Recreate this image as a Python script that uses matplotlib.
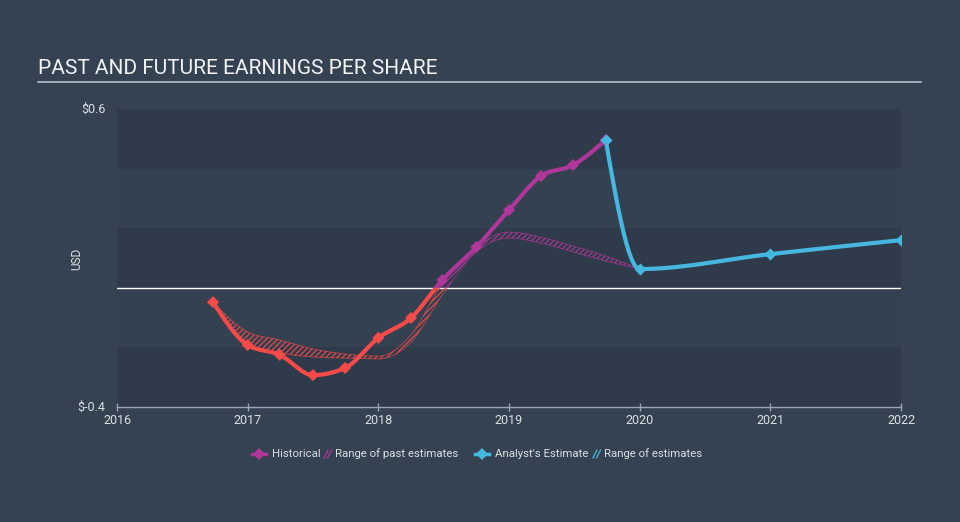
import numpy as np
import matplotlib.pyplot as plt
from matplotlib.patches import Rectangle
from matplotlib.lines import Line2D

plt.rcParams['font.family'] = ['Roboto', 'DejaVu Sans']
plt.rcParams['hatch.linewidth'] = 0.8

# historical EPS (fractional year, USD)
hist_x = [2016.735, 2017.0, 2017.245, 2017.5, 2017.745, 2018.0, 2018.25,
          2018.49, 2018.75, 2019.0, 2019.245, 2019.49, 2019.74]
hist_y = [-0.048, -0.192, -0.225, -0.293, -0.269, -0.168, -0.101,
          0.026, 0.137, 0.261, 0.375, 0.412, 0.496]

# range of past estimates
past_x = [2016.735, 2017.0, 2017.245, 2017.5, 2017.745, 2018.0, 2018.25,
          2018.49, 2018.75, 2019.0, 2019.245, 2019.49, 2019.74, 2020.0]
past_hi = [-0.048, -0.148, -0.175, -0.205, -0.222, -0.229, -0.158,
           0.016, 0.137, 0.187, 0.170, 0.140, 0.107, 0.063]
past_lo = [-0.048, -0.192, -0.219, -0.232, -0.236, -0.239, -0.182,
           -0.024, 0.120, 0.167, 0.150, 0.120, 0.090, 0.063]

# analyst estimates
est_x = [2019.74, 2020.0, 2021.0, 2022.0]
est_y = [0.496, 0.063, 0.113, 0.160]

years = [2016, 2017, 2018, 2019, 2020, 2021, 2022]

BG = '#344251'
BAND_DARK = '#2f3b4a'
BAND_LIGHT = '#344150'
RED = '#f44a4a'
PURPLE = '#b0379a'
BLUE = '#46b7de'
TXT = '#dde0e3'


def monotone(x, y, n=40):
    """monotone cubic (like d3 curveMonotoneX)"""
    x = np.asarray(x, float)
    y = np.asarray(y, float)
    h = np.diff(x)
    s = np.diff(y) / h
    m = np.zeros(len(x))
    for k in range(1, len(x) - 1):
        p = (s[k - 1] * h[k] + s[k] * h[k - 1]) / (h[k - 1] + h[k])
        m[k] = (np.sign(s[k - 1]) + np.sign(s[k])) * min(abs(s[k - 1]), abs(s[k]), 0.5 * abs(p))
    if len(x) > 2:
        m[0] = (3 * s[0] - m[1]) / 2
        m[-1] = (3 * s[-1] - m[-2]) / 2
    else:
        m[0] = m[-1] = s[0]
    xs, ys = [], []
    for k in range(len(x) - 1):
        t = np.linspace(0, 1, n)
        h00 = 2 * t**3 - 3 * t**2 + 1
        h10 = t**3 - 2 * t**2 + t
        h01 = -2 * t**3 + 3 * t**2
        h11 = t**3 - t**2
        xs.append(x[k] + t * h[k])
        ys.append(h00 * y[k] + h10 * h[k] * m[k] + h01 * y[k + 1] + h11 * h[k] * m[k + 1])
    return np.concatenate(xs), np.concatenate(ys)


fig = plt.figure(figsize=(9.6, 5.22), dpi=100, facecolor=BG)
ax = fig.add_axes([117 / 960, 1 - 407 / 522, 784 / 960, 298 / 522])
ax.set_facecolor(BG)
ax.set_xlim(2016, 2022)
ax.set_ylim(-0.4, 0.6)

# horizontal bands
for i, y0 in enumerate(np.arange(-0.4, 0.6, 0.2)):
    ax.axhspan(y0, y0 + 0.2, color=BAND_DARK if i % 2 == 0 else BAND_LIGHT, lw=0, zorder=0)

ax.axhline(0, color='white', lw=1, zorder=1)

above = Rectangle((2010, 0), 20, 5, transform=ax.transData)
below = Rectangle((2010, -5), 20, 5, transform=ax.transData)

# past estimate range (hatched)
bx, bhi = monotone(past_x, past_hi)
_, blo = monotone(past_x, past_lo)
for col, clip in [(RED, below), (PURPLE, above)]:
    f = ax.fill_between(bx, blo, bhi, facecolor='none', edgecolor=col, hatch='//////',
                        lw=0, zorder=2)
    f.set_clip_path(clip)
    for yy in (bhi, blo):
        ln, = ax.plot(bx, yy, color=col, lw=0.6, alpha=0.7, zorder=2)
        ln.set_clip_path(clip)

# historical line, red below zero and purple above
hx, hy = monotone(hist_x, hist_y)
for col, clip in [(RED, below), (PURPLE, above)]:
    ln, = ax.plot(hx, hy, color=col, lw=3, solid_capstyle='round', zorder=3)
    ln.set_clip_path(clip)
hist_cols = [RED if v < 0 else PURPLE for v in hist_y]
ax.scatter(hist_x, hist_y, marker='D', s=38, c=hist_cols, lw=0, zorder=4)

# analyst estimate
ex, ey = monotone(est_x, est_y)
ax.plot(ex, ey, color=BLUE, lw=3, solid_capstyle='round', zorder=3)
ax.scatter(est_x, est_y, marker='D', s=38, c=BLUE, lw=0, zorder=5)

# axes styling
for sp in ['top', 'right', 'left']:
    ax.spines[sp].set_visible(False)
ax.spines['bottom'].set_color('#9aa6b2')
ax.spines['bottom'].set_linewidth(1)
ax.set_xticks(years)
ax.set_xticklabels([str(y) for y in years])
ax.tick_params(axis='x', colors='#9aa6b2', labelcolor=TXT, labelsize=9, length=6, width=1,
               direction='inout', pad=2)
ax.set_yticks([])
ax.text(-0.015, 1.0, '$0.6', transform=ax.transAxes, ha='right', va='center',
        color=TXT, fontsize=9)
ax.text(-0.015, 0.0, '$-0.4', transform=ax.transAxes, ha='right', va='center',
        color=TXT, fontsize=9)
fig.text(77 / 960, 1 - 259 / 522, 'USD', rotation=90, ha='center', va='center',
         color=TXT, fontsize=8.5)

# title with rule
fig.text(38 / 960, 1 - 68 / 522, 'PAST AND FUTURE EARNINGS PER SHARE', ha='left', va='center',
         color='#f2f3f5', fontsize=15)
fig.add_artist(Line2D([38 / 960, 921 / 960], [1 - 82 / 522] * 2, color='#b8c0c8', lw=1.2))

# legend drawn by hand
ly = 1 - 454 / 522
def leg_marker(x0, col):
    fig.add_artist(Line2D([(x0 - 7) / 960, (x0 + 7) / 960], [ly, ly], color=col, lw=2.5))
    fig.add_artist(Line2D([x0 / 960], [ly], marker='D', color=col, ms=6, mew=0))

def leg_hatch(x0, col):
    # two small slanted strokes
    for dx in (0, 3.5):
        fig.add_artist(Line2D([(x0 + dx) / 960, (x0 + dx + 4) / 960],
                              [ly - 4 / 522, ly + 4 / 522], color=col, lw=0.9))

leg_marker(259, PURPLE)
fig.text(272 / 960, ly, 'Historical', color=TXT, fontsize=8.2, va='center')
leg_hatch(324, PURPLE)
fig.text(335 / 960, ly, 'Range of past estimates', color=TXT, fontsize=8.2, va='center')
leg_marker(482, BLUE)
fig.text(495 / 960, ly, "Analyst's Estimate", color=TXT, fontsize=8.2, va='center')
leg_hatch(593, BLUE)
fig.text(604 / 960, ly, 'Range of estimates', color=TXT, fontsize=8.2, va='center')

fig.savefig('out.png', dpi=100, facecolor=BG)
